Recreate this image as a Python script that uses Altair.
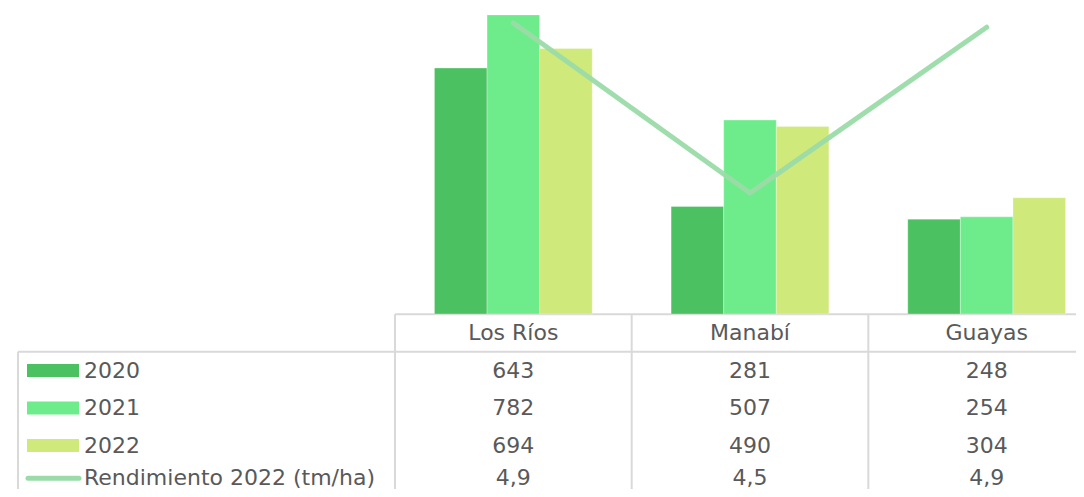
import altair as alt
import pandas as pd

# ---- data ----
categorias = ["Los Ríos", "Manabí", "Guayas"]
series = ["2020", "2021", "2022"]
v2020 = [643, 281, 248]
v2021 = [782, 507, 254]
v2022 = [694, 490, 304]
rendimiento = [4.9, 4.5, 4.89]
linea_nombre = "Rendimiento 2022 (tm/ha)"

colores = ["#4BC161", "#6EEC8C", "#D0E97B"]
color_linea = "#9BDBA8"
gris_txt = "#595959"
gris_borde = "#D9D9D9"
FONT = "DejaVu Sans"
FS = 22

# row positions of the data table (header = 0); last row nudged up to stay inside the page
filas = [1, 2, 3, 3.87]

# ---- tables ----
bars = pd.DataFrame(
    [(c, s, v) for s, vals in zip(series, [v2020, v2021, v2022]) for c, v in zip(categorias, vals)],
    columns=["cat", "serie", "valor"],
)
line_df = pd.DataFrame({"cat": categorias, "rend": rendimiento})

def fmt(v):
    if isinstance(v, float):
        return f"{v:.1f}".replace(".", ",")
    return str(v)

cells = []
for f, vals in zip(filas, [v2020, v2021, v2022, rendimiento]):
    for c, v in zip(categorias, vals):
        cells.append({"cat": c, "fila": f, "txt": fmt(v)})
cells = pd.DataFrame(cells)
header = pd.DataFrame({"cat": categorias, "fila": [0] * 3})
rowlab = pd.DataFrame({"fila": filas, "txt": series + [linea_nombre]})
keys = pd.DataFrame({"fila": filas[:3], "serie": series})
keyline = pd.DataFrame({"fila": filas[3:]})
vlines = pd.DataFrame({"cat": categorias, "y0": [-0.5] * 3, "y1": [6] * 3})
hline_top = pd.DataFrame({"cat": ["Los Ríos"], "fila": [-0.5]})
hline_mid = pd.DataFrame({"fila": [0.5]})
vline_left = pd.DataFrame({"y0": [0.5], "y1": [6]})

# ---- scales ----
xs = alt.Scale(domain=categorias, range=[387, 1097], paddingInner=0, paddingOuter=0)
ys_bar = alt.Scale(domain=[0, 800], range=[306, 0])
ys_line = alt.Scale(domain=[4.2153, 4.9353], range=[306, 0], zero=False)
ys_row = alt.Scale(domain=[0, 4], range=[325, 475], zero=False)
cs = alt.Scale(domain=series, range=colores)

X = alt.X("cat:N", scale=xs, axis=None)

bar_layer = alt.Chart(bars).mark_bar(stroke="white", strokeWidth=0.6, strokeOpacity=0.5).encode(
    x=X,
    xOffset=alt.XOffset("serie:N", scale=alt.Scale(domain=series, paddingInner=0, paddingOuter=0.75)),
    y=alt.Y("valor:Q", scale=ys_bar, axis=None),
    color=alt.Color("serie:N", scale=cs, legend=None),
)

line_layer = alt.Chart(line_df).mark_line(
    color=color_linea, strokeWidth=5, strokeCap="round", strokeJoin="miter", opacity=0.95
).encode(
    x=X,
    y=alt.Y("rend:Q", scale=ys_line, axis=None),
)

Yrow = alt.Y("fila:Q", scale=ys_row, axis=None)

vline_layer = alt.Chart(vlines).mark_rule(color=gris_borde, strokeWidth=2).encode(
    x=alt.X("cat:N", scale=xs, axis=None, bandPosition=0),
    y=alt.Y("y0:Q", scale=ys_row, axis=None),
    y2="y1:Q",
)
vleft_layer = alt.Chart(vline_left).mark_rule(color=gris_borde, strokeWidth=2).encode(
    x=alt.value(10),
    y=alt.Y("y0:Q", scale=ys_row, axis=None),
    y2="y1:Q",
)
htop_layer = alt.Chart(hline_top).mark_rule(color=gris_borde, strokeWidth=2).encode(
    x=alt.X("cat:N", scale=xs, axis=None, bandPosition=0),
    x2=alt.value(1068),
    y=Yrow,
)
hmid_layer = alt.Chart(hline_mid).mark_rule(color=gris_borde, strokeWidth=2).encode(
    x=alt.value(10),
    x2=alt.value(1068),
    y=Yrow,
)

txt_kw = dict(font=FONT, fontSize=FS, color=gris_txt, baseline="middle")
header_layer = alt.Chart(header).mark_text(**txt_kw, align="center").encode(
    x=X, y=Yrow, text="cat:N"
)
cell_layer = alt.Chart(cells).mark_text(**txt_kw, align="center").encode(
    x=X, y=Yrow, text="txt:N"
)
rowlab_layer = alt.Chart(rowlab).mark_text(**txt_kw, align="left").encode(
    x=alt.value(76), y=Yrow, text="txt:N"
)
key_layer = alt.Chart(keys).mark_rule(strokeWidth=13, strokeCap="butt").encode(
    x=alt.value(19), x2=alt.value(71), y=Yrow,
    color=alt.Color("serie:N", scale=cs, legend=None),
)
keyline_layer = alt.Chart(keyline).mark_rule(strokeWidth=5, strokeCap="round", color=color_linea).encode(
    x=alt.value(20), x2=alt.value(71), y=Yrow,
)

chart = alt.layer(
    vline_layer, vleft_layer, htop_layer, hmid_layer,
    bar_layer, line_layer,
    header_layer, cell_layer, rowlab_layer, key_layer, keyline_layer,
).resolve_scale(y="independent").properties(
    width=1068, height=481,
    autosize=alt.AutoSizeParams(type="none"),
    padding=0,
).configure_view(stroke=None)

chart.save("out.html", embed_options={"renderer": "svg", "actions": False})
